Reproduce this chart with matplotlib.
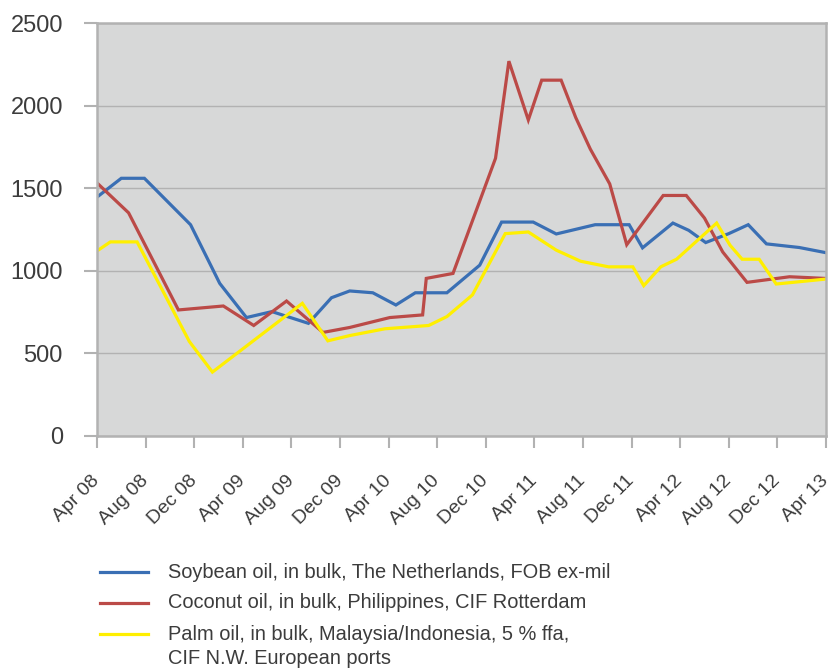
import matplotlib.pyplot as plt
from matplotlib.lines import Line2D
from matplotlib.transforms import ScaledTranslation

# months since Apr 08
soy_x = [0, 2, 3.9, 7.7, 10.1, 12.3, 14.4, 17.4, 19.3, 20.8, 22.7, 24.6, 26.2, 28.8,
         31.5, 33.3, 35.9, 37.8, 41.0, 43.8, 44.9, 47.4, 48.7, 50.1, 52.0, 53.6,
         55.1, 57.8, 59.9]
soy_y = [1446, 1560, 1560, 1279, 924, 717, 753, 682, 837, 878, 867, 793, 867, 867,
         1034, 1295, 1295, 1223, 1279, 1279, 1139, 1289, 1245, 1171, 1225, 1279,
         1163, 1141, 1111]

coco_x = [0, 2.6, 6.7, 10.4, 12.9, 15.6, 18.6, 20.8, 24.1, 26.8, 27.1, 29.3, 32.8,
          33.9, 35.5, 36.6, 38.2, 39.4, 40.6, 42.2, 43.6, 46.6, 48.5, 50.0, 51.5,
          53.5, 57.0, 59.9]
coco_y = [1532, 1351, 763, 787, 669, 817, 627, 657, 717, 733, 954, 984, 1681,
          2269, 1913, 2154, 2154, 1928, 1737, 1526, 1158, 1456, 1456, 1319, 1114,
          930, 964, 954]

palm_x = [0, 1.1, 3.3, 7.6, 9.5, 16.9, 19.0, 20.8, 23.7, 27.3, 28.8, 30.9, 33.6,
          35.5, 37.8, 39.8, 42.1, 44.1, 45.0, 46.4, 47.7, 51.0, 52.1, 53.1, 54.5,
          55.9, 60]
palm_y = [1120, 1175, 1175, 572, 387, 803, 576, 608, 649, 669, 723, 854, 1225,
          1235, 1125, 1058, 1024, 1024, 910, 1024, 1070, 1289, 1155, 1070, 1070,
          920, 950]

tick_months = list(range(0, 61, 4))
tick_labels = ["Apr 08", "Aug 08", "Dec 08", "Apr 09", "Aug 09", "Dec 09",
               "Apr 10", "Aug 10", "Dec 10", "Apr 11", "Aug 11", "Dec 11",
               "Apr 12", "Aug 12", "Dec 12", "Apr 13"]

series = [
    (soy_x, soy_y, "#3a6fb4", ["Soybean oil, in bulk, The Netherlands, FOB ex-mil"]),
    (coco_x, coco_y, "#bb4a47", ["Coconut oil, in bulk, Philippines, CIF Rotterdam"]),
    (palm_x, palm_y, "#ffef00", ["Palm oil, in bulk, Malaysia/Indonesia, 5 % ffa,",
                                 "CIF N.W. European ports"]),
]

plt.rcParams["font.family"] = "Liberation Sans"
txt = "#3c3c3c"
edge = "#b2b2b2"

fig = plt.figure(figsize=(8.34, 6.68), dpi=100)
ax = fig.add_axes([97 / 834, 1 - 436 / 668, 729 / 834, 413 / 668])
ax.set_facecolor("#d7d8d8")

for xs, ys, col, lab in series:
    ax.plot(xs, ys, color=col, lw=2.3, solid_joinstyle="miter")

ax.set_xlim(0, 60)
ax.set_ylim(0, 2500)
ax.set_yticks(range(0, 2501, 500))
ax.set_xticks(tick_months)
ax.tick_params(axis="y", length=9.5, width=1.5, color=edge, pad=15,
               labelsize=17, labelcolor=txt)
ax.tick_params(axis="x", length=8.5, width=1.5, color=edge, pad=6)
ax.set_xticklabels(tick_labels, rotation=45, ha="right", va="center",
                   rotation_mode="anchor", fontsize=14, color=txt)
ax.yaxis.grid(True, color=edge, lw=1)
ax.set_axisbelow(True)
for s in ax.spines.values():
    s.set_color(edge)
    s.set_linewidth(1.8)

# legend drawn by hand so the wrapped label keeps its line at the first row
y = 1 - 572 / 668
for xs, ys, col, lab in series:
    fig.add_artist(Line2D([100 / 834, 148 / 834], [y, y], color=col, lw=2.3,
                          transform=fig.transFigure))
    for i, line in enumerate(lab):
        fig.text(168 / 834, y - i * 24 / 668, line, fontsize=14.4, color=txt,
                 va="center", ha="left")
    y -= 31 / 668

# push the slanted date labels down, like the original
shift = ScaledTranslation(0, -22 / 100, fig.dpi_scale_trans)
for tick in ax.xaxis.get_major_ticks():
    tick.label1.set_transform(tick.label1.get_transform() + shift)

fig.savefig("out.png", dpi=100)
